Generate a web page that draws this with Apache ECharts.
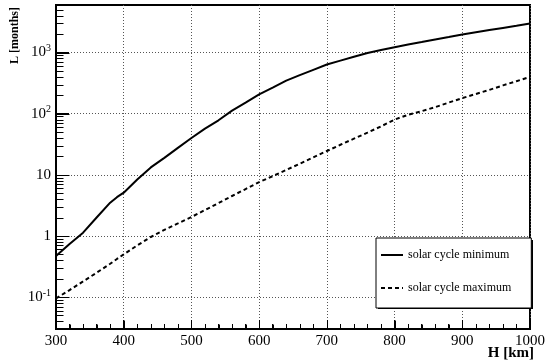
<!DOCTYPE html>
<html>
<head>
<meta charset="utf-8">
<script src="https://cdn.jsdelivr.net/npm/echarts@6/dist/echarts.min.js"></script>
<style>
  html, body { margin: 0; padding: 0; background: #fff; }
  #chart { width: 548px; height: 362px; }
</style>
</head>
<body>
<div id="chart"></div>
<script>
// Orbital lifetime L (months) versus altitude H (km)
const altitudes = [300, 320, 340, 360, 380, 390, 400, 420, 440, 460, 480, 500, 520, 540, 560, 580,
  600, 620, 640, 660, 680, 700, 720, 740, 760, 780, 800, 820, 840, 860, 880, 900, 920, 940, 960, 980, 1000];
const lifetimeSolarMin = [0.47, 0.74, 1.13, 2.0, 3.5, 4.3, 5.1, 8.4, 13.2, 18.9, 27.6, 40, 57, 78, 112, 152,
  207, 267, 347, 427, 522, 639, 738, 853, 986, 1100, 1225, 1350, 1483, 1633, 1796, 1977, 2146, 2330, 2530, 2746, 2990];
const lifetimeSolarMax = [0.095, 0.13, 0.18, 0.25, 0.35, 0.42, 0.50, 0.70, 0.96, 1.26, 1.6, 2.04, 2.65, 3.45, 4.5, 5.85,
  7.6, 9.5, 12.0, 15.2, 19.3, 24.5, 31, 39, 49, 62, 80, 96, 110, 128, 152, 180, 210, 245, 290, 340, 400];

const seriesNames = ['solar cycle minimum', 'solar cycle maximum'];
const yMajorTicks = [0.1, 1, 10, 100, 1000];
const yTickLabels = ['10{sup|-1}', '1', '10', '10{sup|2}', '10{sup|3}'];
const yMin = 0.03, yMax = 6000;
const xMin = 300, xMax = 1000, xStep = 100, xMinorStep = 20;

// tick positions: x every 100 km (major) and 20 km (minor); y at 10^n (major) and 2..9 x 10^n (minor)
const xMajorTicks = [], xMinorTicks = [];
for (let v = xMin; v <= xMax; v += xMinorStep) {
  if ((v - xMin) % xStep === 0) xMajorTicks.push(v); else xMinorTicks.push(v);
}
const yMinorTicks = [];
for (let e = -2; e <= 3; e++) {
  for (let m = 2; m <= 9; m++) {
    const v = +(m * Math.pow(10, e)).toPrecision(3);
    if (v >= yMin && v <= yMax) yMinorTicks.push(v);
  }
}

const serif = 'Liberation Serif';
const gridDots = { color: '#555', type: [1, 2], width: 1 };
const clear = 'rgba(0,0,0,0)';

const decorations = [
  {
    type: 'text', x: 15, y: 7, rotation: Math.PI / 2,
    style: { text: 'L [months]', font: 'bold 12px "Liberation Serif"', fill: '#000', textAlign: 'right', textVerticalAlign: 'middle' }
  },
  {
    type: 'text', x: 534, y: 361,
    style: { text: 'H [km]', font: 'bold 15px "Liberation Serif"', fill: '#000', textAlign: 'right', textVerticalAlign: 'bottom' }
  },
  {
    // drop shadow behind the legend box
    type: 'rect', z: 3, silent: true,
    shape: { x: 378, y: 240, width: 155, height: 69 },
    style: { fill: '#000' }
  }
];

const chart = echarts.init(document.getElementById('chart'));
chart.setOption({
  animation: false,
  grid: {
    left: 56, right: 16, top: 5, bottom: 33,
    show: true, borderColor: '#000', borderWidth: 2, backgroundColor: clear
  },
  xAxis: {
    type: 'value', min: xMin, max: xMax, interval: xStep,
    axisLine: { show: true, lineStyle: { color: '#000', width: 2 } },
    axisTick: { show: true, inside: true, length: 9, lineStyle: { color: '#000', width: 1 } },
    minorTick: { show: true, splitNumber: 5, length: 5, lineStyle: { color: '#000', width: 1 } },
    splitLine: { show: true, lineStyle: gridDots },
    axisLabel: {
      fontFamily: serif, fontSize: 15, color: '#000', margin: 5,
      formatter: function (v) { return String(v); }
    }
  },
  yAxis: {
    type: 'log', logBase: 10, min: yMin, max: yMax,
    axisLine: { show: true, lineStyle: { color: '#000', width: 2 } },
    axisTick: { show: true, inside: true, length: 13, customValues: yMajorTicks, lineStyle: { color: '#000', width: 1 } },
    splitLine: { show: true, lineStyle: gridDots },
    axisLabel: {
      customValues: yMajorTicks, margin: 5,
      fontFamily: serif, fontSize: 15, color: '#000',
      formatter: function (v) {
        const i = Math.round(Math.log10(v)) + 1;
        return yTickLabels[i];
      },
      rich: {
        sup: { fontFamily: serif, fontSize: 10, color: '#000', padding: [0, 0, 8, 0] }
      }
    }
  },
  legend: {
    data: seriesNames,
    orient: 'vertical', left: 376, top: 238, z: 4,
    itemWidth: 22, itemHeight: 14, itemGap: 21,
    padding: [11, 20, 14, 4],
    itemStyle: { color: clear, borderColor: clear, borderWidth: 0 },
    backgroundColor: '#fff', borderColor: '#000', borderWidth: 1, borderRadius: 0,
    textStyle: { fontFamily: serif, fontSize: 12, color: '#000' }
  },
  graphic: decorations,
  series: [
    {
      name: seriesNames[0], type: 'line',
      data: altitudes.map((h, i) => [h, lifetimeSolarMin[i]]),
      symbol: 'none', showSymbol: false,
      lineStyle: { color: '#000', width: 2 }, itemStyle: { color: '#000' }
    },
    {
      name: seriesNames[1], type: 'line',
      data: altitudes.map((h, i) => [h, lifetimeSolarMax[i]]),
      symbol: 'none', showSymbol: false,
      lineStyle: { color: '#000', width: 2, type: [4, 3] }, itemStyle: { color: '#000' }
    }
  ]
});

// inward tick marks on the bottom and left frame edges, placed through the axis scales
const tickMarks = [];
function addTicks(values, onX, length) {
  values.forEach(function (v) {
    const p = chart.convertToPixel({ gridIndex: 0 }, onX ? [v, yMin] : [xMin, v]);
    if (!p) return;
    const px = Math.round(p[0]) + 0.5, py = Math.round(p[1]) + 0.5;
    tickMarks.push({
      type: 'line', silent: true, z: 50,
      shape: onX ? { x1: px, y1: py, x2: px, y2: py - length } : { x1: px, y1: py, x2: px + length, y2: py },
      style: { stroke: '#000', lineWidth: 1 }
    });
  });
}
addTicks(xMajorTicks, true, 9);
addTicks(xMinorTicks, true, 5);
addTicks(yMajorTicks, false, 13);
addTicks(yMinorTicks, false, 7);
chart.setOption({ graphic: decorations.concat(tickMarks) });
</script>
</body>
</html>
